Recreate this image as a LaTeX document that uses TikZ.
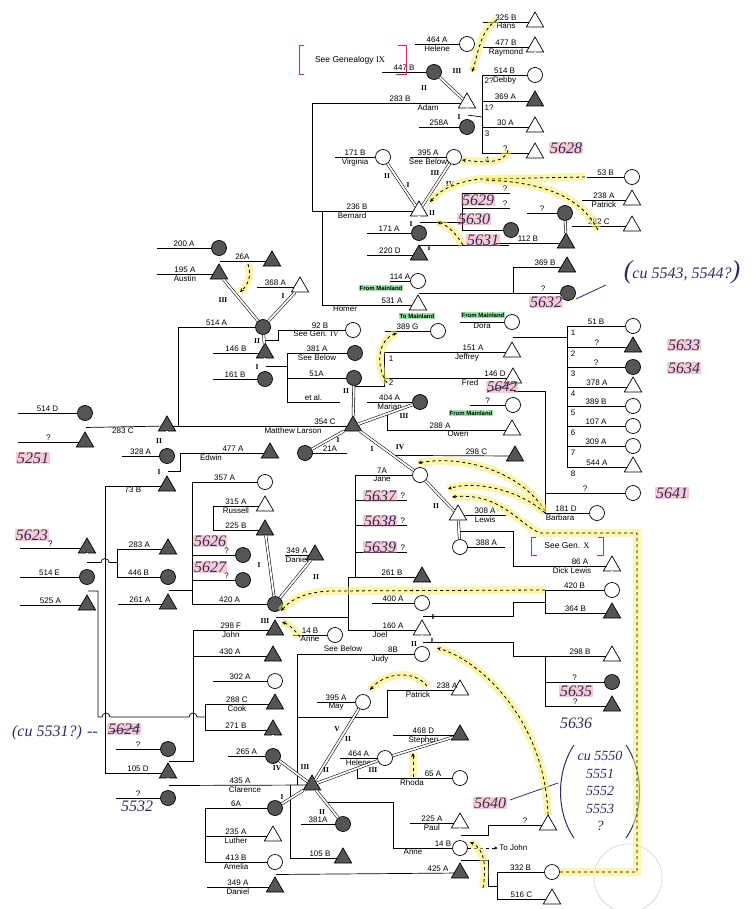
\documentclass[tikz,border=0pt]{standalone}
\usepackage{fontspec}
\setmainfont{Liberation Sans}
\newfontfamily\romfont{Liberation Serif}
\newfontfamily\handfont{Liberation Serif}
\usetikzlibrary{shapes.geometric,calc,arrows.meta}
\definecolor{ink}{RGB}{45,45,100}
\definecolor{hilite}{RGB}{250,238,110}
\definecolor{pinkhl}{RGB}{240,140,155}
\definecolor{greenhl}{RGB}{90,210,110}
\definecolor{redpen}{RGB}{215,40,85}
\definecolor{deadgray}{RGB}{85,85,85}
% name lines: to the left, to the right, to a bracket
\newcommand{\tagl}[4]{\draw (#1) -- ++(-#2,0) node[lab,midway,above]{#3} node[lab,midway,below]{#4};}
\newcommand{\tagr}[4]{\draw (#1) -- ++(#2,0) node[lab,midway,above]{#3} node[lab,midway,below]{#4};}
\newcommand{\tagk}[4]{\draw (#1) -- (#1 -| #2) node[lab,midway,above]{#3} node[lab,midway,below]{#4};}
\newcommand{\rn}[2]{\node[rom] at (#1) {#2};}
\begin{document}
\begin{tikzpicture}[x=1pt,y=-1pt,line width=.7pt,
    fem/.style={circle,draw,fill=white,minimum size=15pt,inner sep=0pt},
    mal/.style={regular polygon,regular polygon sides=3,draw,fill=white,minimum size=20pt,inner sep=0pt},
    dead/.style={fill=deadgray},
    marr/.style={double distance=1.8pt,line width=.55pt},
    lab/.style={font=\fontsize{8}{8.5}\selectfont,inner sep=1pt},
    rom/.style={font=\romfont\bfseries\fontsize{7.5}{8}\selectfont,inner sep=0pt},
    hand/.style={font=\handfont\itshape\fontsize{16}{17}\selectfont,text=ink,inner sep=1pt},
    hl/.style={hand,fill=pinkhl,fill opacity=.45,text opacity=1},
    mland/.style={font=\fontsize{6}{6}\selectfont\bfseries,fill=greenhl,fill opacity=.6,text opacity=1,inner sep=1pt},
    migr/.style={dashed,line width=.8pt,-{Stealth[length=4pt,width=3.5pt]},preaction={draw=hilite,line width=8pt,draw opacity=.55,solid,-}},
    seegen/.style={redpen,line width=1pt}
  ]
\fill[white] (0,0) rectangle (755,909);
\useasboundingbox (0,0) rectangle (755,909);

% ---------- people ----------
% Adam
\node[mal] (hans) at (535,22) {};
\node[mal] (raymond) at (535,47) {};
\node[fem] (debby) at (535,75) {};
\node[mal,dead] (s369a) at (535,101) {};
\node[mal] (s30a) at (535,127) {};
\node[mal] (q5628) at (535,153) {};
\node[fem] (helene) at (467,44) {};
\node[fem,dead] (s447b) at (434,72) {};
\node[mal] (adam) at (467,103) {};
\node[fem,dead] (s258a) at (467,127) {};
% Bernard
\node[fem] (virginia) at (383,157) {};
\node[fem] (s395a) at (454,157) {};
\node[mal] (bernard) at (419,211) {};
\node[fem,dead] (s171a) at (419,233) {};
\node[mal,dead] (s220d) at (419,255) {};
\node[fem,dead] (q232) at (511,230) {};
\node[fem,dead] (q213) at (565,213) {};
\node[mal,dead] (s112b) at (566,243) {};
\node[fem] (s53b) at (632,177) {};
\node[mal] (patrick) at (632,200) {};
\node[mal] (s282c) at (632,226) {};
% Homer
\node[fem] (s114a) at (418,281) {};
\node[mal] (homer) at (418,305) {};
\node[mal,dead] (s369b) at (567,267) {};
\node[fem,dead] (q5632) at (568,293) {};
% Austin
\node[fem,dead] (s200a) at (219,248) {};
\node[mal,dead] (austin) at (219,274) {};
\node[mal,dead] (s26a) at (272,261) {};
\node[fem,dead] (s514a) at (263,327) {};
\node[mal] (s368a) at (300,287) {};
\node[mal,dead] (s146b) at (265,353) {};
\node[fem,dead] (s161b) at (265,379) {};
\node[fem] (s92b) at (353,330) {};
\node[fem,dead] (s381a) at (355,353) {};
\node[fem,dead] (s51a) at (354,378) {};
% Matthew Larson
\node[mal,dead] (matthew) at (353,426) {};
\node[fem,dead] (marian) at (420,402) {};
\node[fem,dead] (s21a) at (305,453) {};
\node[fem] (jane) at (420,475) {};
\node[mal] (lewis) at (458,515) {};
\node[fem] (s388a) at (460,547) {};
\node[mal] (owen) at (512,430) {};
\node[mal,dead] (s298c) at (515,456) {};
\node[fem] (s389g) at (438,331) {};
\node[fem] (dora) at (512,322) {};
\node[mal] (jeffrey) at (512,352) {};
\node[mal] (fred) at (513,378) {};
\node[fem] (qfred) at (513,405) {};
\node[fem] (c51b) at (633,326) {};
\node[mal,dead] (q5633) at (633,347) {};
\node[fem,dead] (q5634) at (633,367) {};
\node[mal] (c378a) at (633,387) {};
\node[fem] (c389b) at (633,406) {};
\node[fem] (c107a) at (633,426) {};
\node[fem] (c309a) at (633,446) {};
\node[mal] (c544a) at (633,467) {};
\node[fem] (q5641) at (633,493) {};
\node[fem] (barbara) at (597,513) {};
% left
\node[fem,dead] (s514d) at (85,413) {};
\node[mal,dead] (q442) at (85,442) {};
\node[mal,dead] (s283c) at (167,426) {};
\node[fem,dead] (s328a) at (167,456) {};
\node[mal,dead] (s73b) at (167,486) {};
\node[mal,dead] (edwin) at (270,453) {};
\node[mal,dead] (q548) at (87,548) {};
\node[fem,dead] (s514e) at (87,577) {};
\node[mal,dead] (s525a) at (87,605) {};
\node[mal,dead] (s283a) at (168,549) {};
\node[fem,dead] (s446b) at (168,577) {};
\node[mal,dead] (s261a) at (168,604) {};
\node[fem] (s357a) at (265,482) {};
\node[mal] (russell) at (265,506) {};
\node[mal,dead] (s225b) at (265,530) {};
\node[fem,dead] (q5626) at (243,555) {};
\node[fem,dead] (q5627) at (243,580) {};
\node[fem,dead] (s420a) at (275,604) {};
\node[mal,dead] (daniel) at (315,555) {};
\node[mal,dead] (john) at (275,630) {};
\node[mal,dead] (s430a) at (273,656) {};
\node[fem] (anne) at (335,635) {};
% Joel
\node[mal,dead] (s261b) at (422,577) {};
\node[fem] (s400a) at (422,603) {};
\node[mal] (joel) at (422,630) {};
\node[fem] (judy) at (422,654) {};
\node[mal] (dicklewis) at (612,566) {};
\node[fem] (s420b) at (612,590) {};
\node[mal,dead] (s364b) at (612,613) {};
\node[mal] (s298b) at (612,656) {};
\node[fem,dead] (q5635) at (612,682) {};
\node[mal,dead] (q5636) at (612,706) {};
% Clarence
\node[fem] (s302a) at (275,681) {};
\node[mal,dead] (cook) at (275,704) {};
\node[mal,dead] (s271b) at (273,730) {};
\node[fem,dead] (s265a) at (273,756) {};
\node[fem,dead] (q5624) at (168,749) {};
\node[mal,dead] (s105d) at (168,773) {};
\node[fem,dead] (q5532) at (168,798) {};
\node[mal,dead] (clarence) at (312,785) {};
\node[fem] (may) at (363,702) {};
\node[mal,dead] (stephen) at (460,735) {};
\node[fem] (helene2) at (385,758) {};
\node[fem] (rhoda) at (460,778) {};
\node[fem,dead] (s381a2) at (343,824) {};
\node[mal,dead] (s105b) at (343,858) {};
\node[fem,dead] (s6a) at (275,808) {};
\node[mal] (luther) at (273,836) {};
\node[fem] (amelia) at (275,862) {};
\node[mal,dead] (daniel2) at (275,887) {};
\node[mal] (patrick2) at (460,690) {};
\node[mal] (paul) at (460,823) {};
\node[fem] (anne2) at (460,848) {};
\node[mal,dead] (s425a) at (460,873) {};
\node[mal] (q5640) at (548,825) {};
\node[fem] (s332b) at (552,872) {};
\node[mal] (s516c) at (552,899) {};

% ---------- bracket points ----------
\coordinate (kAdam) at (482,117);
\coordinate (kAL) at (312,0);
\coordinate (kHL) at (322,0);
\coordinate (kB) at (462,0);
\coordinate (kB1) at (462,193);
\coordinate (kB2) at (462,208);
\coordinate (kH2) at (513,0);
\coordinate (kM) at (178,0);
\coordinate (kS1) at (287,353);
\coordinate (kS2) at (287,402);
\coordinate (kJF) at (385,0);
\coordinate (kDo) at (567,0);
\coordinate (kF) at (545,0);
\coordinate (kJ) at (355,0);
\coordinate (kJo) at (545,0);
\coordinate (k73) at (105,0);
\coordinate (k117) at (117,0);
\coordinate (k192) at (192,0);
\coordinate (k213) at (213,0);
\coordinate (k193) at (193,0);
\coordinate (k205) at (205,0);
\coordinate (kC) at (297,0);
\coordinate (kP) at (387,717);
\coordinate (k497) at (497,0);
\coordinate (kAn) at (497,886);

% ---------- lines: Adam ----------
\tagl{hans}{52}{325 B}{Hans}
\tagl{raymond}{52}{477 B}{Raymond}
\tagl{helene}{52}{464 A}{Helene}
\tagl{s447b}{52}{447 B}{}
\tagl{s258a}{48}{258A}{}
\draw (kAdam |- debby) -- (kAdam |- q5628);
\draw ($(adam)!.5!(s258a)$) -- (kAdam);
\tagk{debby}{kAdam}{514 B}{Debby}
\tagk{s369a}{kAdam}{369 A}{}
\tagk{s30a}{kAdam}{30 A}{}
\tagk{q5628}{kAdam}{?}{}
\node[lab] at (489,81) {2?};
\node[lab] at (489,108) {1?};
\node[lab] at (487,134) {3};
\node[lab] at (487,160) {4};
\draw (adam) -- (adam -| kAL) |- (bernard);
\node[lab,above] at (400,103) {283 B};
\node[lab,below] at (428,103) {Adam};
\node[lab,above] at (357,211) {236 B};
\node[lab,below] at (352,211) {Bernard};
\draw (homer) -- (homer -| kHL) -- (kHL |- bernard);
\node[lab,above] at (392,305) {531 A};
\node[lab,below] at (345,305) {Homer};

% ---------- Bernard ----------
\tagl{virginia}{48}{171 B}{Virginia}
\tagl{s395a}{44}{395 A}{See Below}
\tagl{s171a}{52}{171 A}{}
\tagl{s220d}{52}{220 D}{}
\draw ($(bernard)!.5!(s171a)$) -- (kB |- 0,222);
\draw (kB1) -- (kB |- q232);
\draw (kB1) -- ++(48,0) node[lab,pos=.9,above]{?};
\draw (kB2) -- ++(48,0) node[lab,pos=.9,above]{?};
\draw (q232) -- (q232 -| kB);
\draw ($(s171a)!.55!(s220d)$) -- ++(90,0);
\tagl{q213}{38}{?}{}
\tagl{s112b}{70}{112 B}{}
\tagl{s53b}{45}{53 B}{}
\tagl{patrick}{50}{238 A}{Patrick}
\tagl{s282c}{60}{282 C}{}

% ---------- Homer ----------
\tagl{s114a}{28}{114 A}{}
\draw ($(s114a)!.5!(homer)$) -- (q5632);
\draw (s369b) -- (s369b -| kH2) -- (kH2 |- q5632);
\node[lab,above] at (545,267) {369 B};
\node[lab,above] at (543,293) {?};

% ---------- Austin ----------
\tagl{s200a}{62}{200 A}{}
\tagl{austin}{62}{195 A}{Austin}
\draw ($(s200a)!.5!(austin)$) -- (s26a) node[lab,midway,above]{26A};
\draw (s514a) -- (s514a -| kM) node[lab,midway,above]{514 A} -- (kM |- matthew);
\tagl{s368a}{43}{368 A}{}
\tagl{s146b}{52}{146 B}{}
\tagl{s161b}{52}{161 B}{}
\draw ($(s514a)!.5!(s146b)$) -- ++(14,0) |- (s92b);
\node[lab,above] at (320,330) {92 B};
\node[lab,below] at (316,330) {See Gen. {\romfont IV}};
\draw ($(s146b)!.5!(s161b)$) -- (kS1 |- 0,366);
\draw (kS1) -- (kS2) -- ++(53,0) node[lab,midway,above]{et al.};
\tagk{s381a}{kS1}{381 A}{See Below}
\tagk{s51a}{kS1}{51A}{}

% ---------- Matthew Larson ----------
\tagl{s514d}{67}{514 D}{}
\tagl{q442}{67}{?}{}
\draw ($(s514d)!.5!(q442)$) -- (s283c) node[lab,midway,below]{283 C};
\draw (s283c) -- (matthew);
\node[lab,above] at (325,426) {354 C};
\node[lab,below] at (293,426) {Matthew Larson};
\tagl{s328a}{45}{328 A}{}
\draw (s73b) -- (s73b -| k73) node[lab,midway,below]{73 B} -- (k73 |- s105d) -- (s105d);
\node[lab,above] at (138,773) {105 D};
\draw ($(s328a)!.5!(s73b)$) -- ++(13,0) |- (edwin);
\node[lab,above] at (233,453) {477 A};
\node[lab,below] at (211,453) {Edwin};
\tagl{marian}{53}{404 A}{Marian}
\draw ($(matthew)!.52!(marian)$) |- (owen);
\node[lab,above] at (440,430) {288 A};
\node[lab,below] at (458,430) {Owen};
\tagr{s21a}{42}{21A}{}
\draw ($(matthew)!.6!(jane)$) -- (s298c) node[lab,pos=.72,above]{298 C};
\draw (jane) -- (jane -| kJ) -- (kJ |- s261b) -- (s261b);
\node[lab,above] at (382,475) {7A};
\node[lab,below] at (382,475) {Jane};
\node[lab,above] at (392,577) {261 B};
\draw (kJ |- 0,500) -- ++(52,0) node[lab,pos=.92,above]{?};
\draw (kJ |- 0,525) -- ++(52,0) node[lab,pos=.92,above]{?};
\draw (kJ |- 0,552) -- ++(52,0) node[lab,pos=.92,above]{?};
\tagr{lewis}{48}{308 A}{Lewis}
\tagr{s388a}{45}{388 A}{}
\draw ($(lewis)!.5!(s388a)$) -- ++(54,0) |- (dicklewis);
\node[lab,above] at (580,566) {86 A};
\node[lab,below] at (572,566) {Dick Lewis};
% Dora and Jeffrey
\draw ($(s51a)!.18!(matthew)$) -- ++(31,0) |- (jeffrey);
\node[lab,above] at (473,352) {151 A};
\node[lab,below] at (467,352) {Jeffrey};
\draw (fred) -- (fred -| kJF);
\node[lab,above] at (495,378) {146 D};
\node[lab,below] at (470,378) {Fred};
\node[lab] at (391,359) {1};
\node[lab] at (391,383) {2};
\tagl{s389g}{53}{389 G}{}
\tagl{dora}{52}{}{Dora}
\tagl{qfred}{43}{?}{}
\draw ($(dora)!.5!(jeffrey)$) -- (kDo |- 0,337);
\draw (kDo |- c51b) -- (kDo |- c544a);
\tagk{c51b}{kDo}{51 B}{}
\tagk{q5633}{kDo}{?}{}
\tagk{q5634}{kDo}{?}{}
\tagk{c378a}{kDo}{378 A}{}
\tagk{c389b}{kDo}{389 B}{}
\tagk{c107a}{kDo}{107 A}{}
\tagk{c309a}{kDo}{309 A}{}
\tagk{c544a}{kDo}{544 A}{}
\node[lab] at (573,333) {1};
\node[lab] at (573,354) {2};
\node[lab] at (573,374) {3};
\node[lab] at (573,394) {4};
\node[lab] at (573,413) {5};
\node[lab] at (573,433) {6};
\node[lab] at (573,453) {7};
\node[lab] at (573,474) {8};
\draw ($(fred)!.5!(qfred)$) -- ++(32,0) |- (barbara);
\tagk{q5641}{kF}{?}{}
\node[lab,above] at (566,513) {181 D};
\node[lab,below] at (560,513) {Barbara};

% ---------- left side ----------
\tagl{q548}{67}{?}{}
\tagl{s514e}{67}{514 E}{}
\tagl{s525a}{67}{525 A}{}
\draw ($(q548)!.5!(s514e)$) -- (101,562.5) arc(180:360:4) -- (117,562.5);
\draw (k117 |- s283a) -- (k117 |- s446b);
\tagk{s283a}{k117}{283 A}{}
\tagk{s446b}{k117}{446 B}{}
\tagl{s261a}{50}{261 A}{}
\draw ($(s446b)!.5!(s261a)$) -- ++(24,0);
\draw (k192 |- s357a) -- (k192 |- s420a);
\tagk{s357a}{k192}{357 A}{}
\draw (q5626) -- (q5626 -| k192) node[lab,pos=.2,above]{?};
\draw (q5627) -- (q5627 -| k192) node[lab,pos=.2,above]{?};
\tagk{s420a}{k192}{420 A}{}
\draw (k213 |- russell) -- (k213 |- s225b);
\tagk{russell}{k213}{315 A}{Russell}
\tagk{s225b}{k213}{225 B}{}
\tagl{daniel}{30}{349 A}{Daniel}
\tagk{john}{k193}{298 F}{John}
\tagk{s430a}{k193}{430 A}{}
\draw (k193 |- john) |- ($(q5624)!.5!(s105d)$);
\tagl{anne}{42}{14 B}{Anne}
\node[lab] at (343,649) {See Below};
% Joel and Judy
\draw ($(s420a)!.5!(john)$) -- ++(73,0) coordinate (kD1);
\draw (kD1) |- (s261b);
\draw (kD1) |- (joel);
\node[lab,above] at (393,630) {160 A};
\node[lab,below] at (380,630) {Joel};
\tagl{s400a}{50}{400 A}{}
\draw (judy) -- (judy -| kC) -- (kC |- clarence);
\node[lab,above] at (393,654) {8B};
\node[lab,below] at (380,654) {Judy};
\draw ($(s400a)!.5!(joel)$) -- ++(91,0) |- (kJo |- 0,602);
\draw (kJo |- s420b) -- (kJo |- s364b);
\tagk{s420b}{kJo}{420 B}{}
\tagk{s364b}{kJo}{364 B}{}
\draw ($(joel)!.5!(judy)$) -- ++(91,0) |- (s298b);
\draw (kJo |- s298b) -- (kJo |- q5636);
\node[lab,above] at (580,656) {298 B};
\tagk{q5635}{kJo}{?}{}
\tagk{q5636}{kJo}{?}{}

% ---------- Clarence ----------
\draw ($(s514e)!.5!(s525a)$) -- (98,591) -- (98,717) -- (102,717) arc(180:360:4) -- (189,717) arc(180:360:4) -- (205,717);
\draw (k205 |- cook) -- (k205 |- s271b);
\tagk{cook}{k205}{288 C}{Cook}
\tagk{s271b}{k205}{271 B}{}
\tagl{s302a}{62}{302 A}{}
\tagl{s265a}{45}{265 A}{}
\tagl{q5624}{52}{?}{}
\tagl{q5532}{52}{?}{}
\draw ($(s105d)!.5!(q5532)$) -- (clarence);
\node[lab,above] at (240,785) {435 A};
\node[lab,below] at (245,785) {Clarence};
\draw (290,785) |- (s105b);
\node[lab,above] at (320,858) {105 B};
\tagl{may}{46}{395 A}{May}
\tagl{helene2}{45}{464 A}{Helene}
\tagl{stephen}{67}{468 D}{Stephen}
\draw ($(clarence)!.62!(helene2)$) |- (rhoda);
\node[lab,above] at (433,778) {65 A};
\node[lab,below] at (412,778) {Rhoda};
\tagl{s381a2}{42}{381A}{}
\draw (s6a) -- (s6a -| k205) node[lab,midway,above]{6A} -- (k205 |- amelia);
\tagk{luther}{k205}{235 A}{Luther}
\tagk{amelia}{k205}{413 B}{Amelia}
\tagl{daniel2}{68}{349 A}{Daniel}
\draw ($(amelia)!.5!(daniel2)$) -- (s425a);
\node[lab,above] at (438,873) {425 A};
\draw (patrick2) -| (kP) -- (kC |- kP);
\node[lab,above] at (447,690) {238 A};
\node[lab,below] at (418,690) {Patrick};
\draw ($(clarence)!.45!(s381a2)$) -- ++(67,0) |- (anne2);
\node[lab,above] at (443,848) {14 B};
\node[lab,below] at (413,848) {Anne};
\tagl{paul}{50}{225 A}{Paul}
\draw ($(paul)!.5!(anne2)$) -- ++(28,0) |- (q5640);
\node[lab,above] at (525,825) {?};
\draw ($(anne2)!.5!(s425a)$) -- ++(28,0) |- (kAn);
\draw (k497 |- s332b) -- (k497 |- s516c);
\tagk{s332b}{k497}{332 B}{}
\tagk{s516c}{k497}{516 C}{}
\draw[dashed,-{Stealth[length=4pt]}] (anne2) -- ++(38,0) node[lab,right]{To John};

% ---------- marriages ----------
\draw[marr] (helene) -- (adam);
\draw[marr] (s447b) -- (adam);
\draw[marr] (adam) -- (s258a);
\draw[marr] (raymond) -- (debby);
\draw[marr] (virginia) -- (bernard);
\draw[marr] (s395a) -- (bernard);
\draw[marr] (bernard) -- (s171a);
\draw[marr] (s171a) -- (s220d);
\draw[marr] (q213) -- (s112b);
\draw[marr] (s114a) -- (homer);
\draw[marr] (s200a) -- (austin);
\draw[marr] (austin) -- (s514a);
\draw[marr] (s514a) -- (s368a);
\draw[marr] (s514a) -- (s146b);
\draw[marr] (s146b) -- (s161b);
\draw[marr] (s51a) -- (matthew);
\draw[marr] (matthew) -- (marian);
\draw[marr] (matthew) -- (s21a);
\draw[marr] (matthew) -- (jane);
\draw[marr] (jane) -- (lewis);
\draw[marr] (lewis) -- (s388a);
\draw[marr] (dora) -- (jeffrey);
\draw[marr] (fred) -- (qfred);
\draw[marr] (s514d) -- (q442);
\draw[marr] (s283c) -- (s328a);
\draw[marr] (s328a) -- (s73b);
\draw[marr,dashed] (q548) -- (s514e);
\draw[marr] (s514e) -- (s525a);
\draw[marr] (s446b) -- (s261a);
\draw[marr] (s357a) -- (russell);
\draw[marr] (s225b) -- (s420a);
\draw[marr] (s420a) -- (daniel);
\draw[marr] (s420a) -- (john);
\draw[marr] (s400a) -- (joel);
\draw[marr] (joel) -- (judy);
\draw[marr] (dicklewis) -- (s420b);
\draw[marr] (s302a) -- (cook);
\draw[marr] (s271b) -- (s265a);
\draw[marr] (q5624) -- (s105d);
\draw[marr] (s105d) -- (q5532);
\draw[marr] (clarence) -- (may);
\draw[marr] (clarence) -- (helene2);
\draw[marr] (helene2) -- (stephen);
\draw[marr] (clarence) -- (s381a2);
\draw[marr] (clarence) -- (s265a);
\draw[marr] (clarence) -- (s6a);
\draw[marr] (amelia) -- (daniel2);
\draw[marr] (paul) -- (anne2);
\draw[marr] (anne2) -- (s425a);

% ---------- roman numerals ----------
\rn{457,71}{III} \rn{424,88}{II} \rn{459,117}{I}
\rn{387,176}{II} \rn{408,185}{I} \rn{435,173}{III} \rn{450,184}{IV}
\rn{411,224}{I} \rn{429,248}{I} \rn{432,213}{II}
\rn{223,300}{III} \rn{283,296}{I} \rn{257,341}{II} \rn{257,367}{I}
\rn{346,391}{II} \rn{404,416}{III} \rn{338,440}{I} \rn{400,447}{IV} \rn{372,449}{I}
\rn{436,506}{II} \rn{159,441}{II} \rn{159,472}{I}
\rn{259,565}{I} \rn{316,577}{II} \rn{265,621}{III}
\rn{433,617}{I} \rn{414,644}{II} \rn{432,641}{I}
\rn{337,729}{V} \rn{348,739}{II} \rn{326,770}{II} \rn{373,770}{III}
\rn{322,812}{II} \rn{277,768}{IV} \rn{305,767}{III} \rn{282,797}{I}

% ---------- notes ----------
\draw[seegen] (304,46) -- (299,46) -- (299,75) -- (304,75);
\draw[seegen] (398,46) -- (406,46) -- (406,75) -- (396,75);
\node[lab,font=\fontsize{8.5}{9}\selectfont] at (350,60) {See Genealogy {\romfont IX}};
\draw[seegen] (536,537) -- (531,537) -- (531,555) -- (537,555);
\draw[seegen] (598,537) -- (603,537) -- (603,555) -- (597,555);
\node[lab,font=\fontsize{8.5}{9}\selectfont] at (567,546) {See Gen. {\romfont X}};
\node[mland] at (381,288) {From Mainland};
\node[mland] at (417,316) {To Mainland};
\node[mland] at (483,315) {From Mainland};
\node[mland] at (471,413) {From Mainland};

\node[hl] (h5628) at (566,148) {5628};
\node[hl] (h5629) at (478,200) {5629};
\node[hl] (h5630) at (474,219) {5630};
\node[hl] (h5631) at (483,240) {5631};
\node[hl] (h5632) at (546,302) {5632};
\draw[ink,line width=.8pt] (576,299) -- (606,285);
\node[hand] (hcu1) at (682,272) {{\fontsize{26}{26}\selectfont(}cu 5543, 5544?{\fontsize{26}{26}\selectfont)}};
\node[hl] (h5633) at (684,345) {5633};
\node[hl] (h5634) at (684,368) {5634};
\node[hl,font=\handfont\itshape\fontsize{15}{15}\selectfont] (h5642) at (502,387) {5642};
\draw[ink] (487,392) -- (517,382);
\node[hl] (h5641) at (672,493) {5641};
\node[hl] (h5251) at (33,458) {5251};
\node[hl] (h5623) at (32,535) {5623};
\node[hl] (h5626) at (210,541) {5626};
\node[hl] (h5627) at (210,567) {5627};
\node[hl] (h5637) at (380,496) {5637};
\node[hl] (h5638) at (380,521) {5638};
\node[hl] (h5639) at (380,547) {5639};
\node[hl] (h5635) at (576,691) {5635};
\node[hand] (h5636) at (576,723) {5636};
\node[hl] (h5640) at (490,803) {5640};
\draw[ink,line width=.8pt] (510,800) -- (558,783);
\draw[ink,line width=1pt] (574,745) .. controls (556,772) and (556,812) .. (574,838);
\draw[ink,line width=1pt] (626,745) .. controls (644,772) and (644,812) .. (626,838);
\node[hand,align=center,font=\handfont\itshape\fontsize{14}{17.5}\selectfont] (hcu2) at (600,791) {cu 5550\\5551\\5552\\5553\\?};
\node[hl] (h5624) at (124,729) {5624};
\draw[ink] (110,732) -- (140,727);
\node[hand] (hcu3) at (55,733) {(cu 5531?) --};
\node[hand] (h5532) at (137,806) {5532};
\draw[gray!35,line width=.6pt] (628,878) circle[radius=34pt];

% ---------- moves ----------
\draw[migr] (497,20) .. controls (480,30) and (478,55) .. (472,72);
\draw[migr] (508,150) .. controls (505,165) and (480,162) .. (462,160);
\draw[migr] (585,177) -- (480,179) .. controls (455,182) and (440,190) .. (430,202);
\draw[migr,-] (598,230) .. controls (580,195) and (540,182) .. (485,180);
\draw[migr] (463,245) .. controls (455,232) and (447,225) .. (437,222);
\draw[migr] (248,264) .. controls (252,275) and (248,285) .. (240,292);
\draw[migr] (387,383) .. controls (375,365) and (378,340) .. (397,333);
\draw[migr] (545,511) .. controls (520,470) and (460,455) .. (418,463);
\draw[migr] (545,513) .. controls (520,490) and (475,480) .. (448,489);
\draw[migr] (s332b) -- (637,872) -- (637,533) -- (540,533) .. controls (520,525) and (500,492) .. (452,497);
\draw[migr] (545,590) -- (330,591) .. controls (305,592) and (290,600) .. (281,611);
\draw[migr] (300,637) .. controls (293,628) and (288,624) .. (282,622);
\draw[migr] (548,815) .. controls (545,720) and (480,660) .. (437,648);
\draw[migr] (427,686) .. controls (415,670) and (385,672) .. (370,690);
\draw[migr] (413,777) -- (413,753);
\draw[migr] (483,888) .. controls (486,870) and (486,850) .. (470,842);
\end{tikzpicture}
\end{document}
